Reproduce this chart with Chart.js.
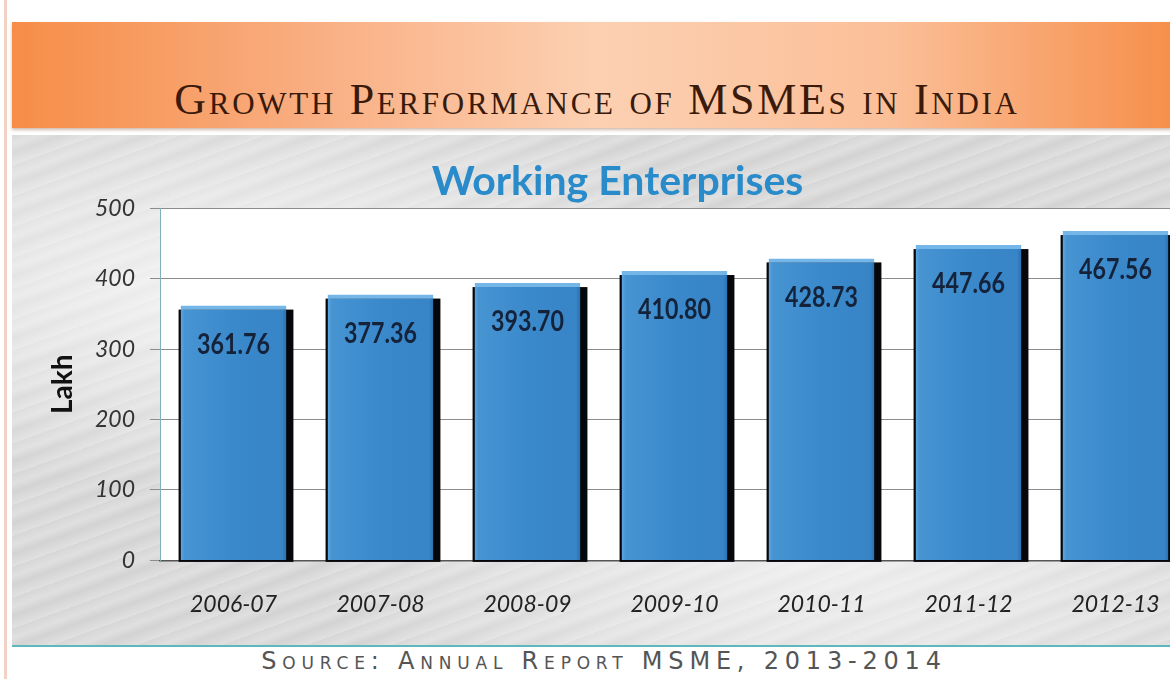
<!DOCTYPE html>
<html>
<head>
<meta charset="utf-8">
<script src="https://cdn.jsdelivr.net/npm/chart.js@4"></script>
<style>
  html, body { margin: 0; padding: 0; }
  body { width: 1170px; height: 679px; overflow: hidden; position: relative; background: #fff; }
  #edge { position: absolute; left: 4px; top: 0; width: 3px; height: 679px; background: #f1d2c4; }
  #header {
    position: absolute; left: 12px; top: 22px; width: 1170px; height: 106px;
    background: linear-gradient(to right, #f68d48 0%, #f9ad80 25%, #fcd0b2 50%, #fbbf98 75%, #f68d48 100%);
    box-shadow: 0 2px 3px rgba(120,60,20,0.35);
  }
  #header span {
    position: absolute; left: 0; width: 1170px; top: 52px; text-align: center;
    font-family: "Liberation Serif", serif; font-size: 44px; font-variant: small-caps;
    color: #3a1a0a; letter-spacing: 2.7px;
  }
  #marble {
    position: absolute; left: 12px; top: 135px; width: 1170px; height: 510px;
    background:
      radial-gradient(ellipse at 20% 30%, rgba(255,255,255,0.7), rgba(255,255,255,0) 40%),
      radial-gradient(ellipse at 70% 80%, rgba(255,255,255,0.6), rgba(255,255,255,0) 45%),
      repeating-linear-gradient(160deg, rgba(150,150,150,0.10) 0px, rgba(255,255,255,0.05) 9px, rgba(130,130,130,0.12) 17px, rgba(255,255,255,0.08) 29px),
      #dedede;
  }
  #rule { position: absolute; left: 12px; top: 645px; width: 1170px; height: 2px; background: #5db7bf; }
  #source {
    position: absolute; left: 16px; width: 1176px; top: 647px; text-align: center;
    font-family: "DejaVu Sans", sans-serif; font-size: 24px; font-variant: small-caps;
    color: #555; letter-spacing: 5.8px;
  }
  #wrap { position: absolute; left: 12px; top: 135px; width: 1182px; height: 513px; }
</style>
</head>
<body>
<div id="edge"></div>
<div id="header"><span>Growth Performance of MSMEs in India</span></div>
<div id="marble"></div>
<div id="rule"></div>
<div id="source">Source: Annual Report MSME, 2013-2014</div>
<div id="wrap"><canvas id="chartEnterprises" width="1182" height="513"></canvas></div>
<script>
var years = ['2006-07', '2007-08', '2008-09', '2009-10', '2010-11', '2011-12', '2012-13'];
var enterprises = [361.76, 377.36, 393.70, 410.80, 428.73, 447.66, 467.56];
var yTicks = [0, 100, 200, 300, 400, 500];

var plotBackground = {
  id: 'plotBackground',
  beforeDraw: function(chart) {
    var a = chart.chartArea, ctx = chart.ctx;
    ctx.save();
    ctx.fillStyle = '#ffffff';
    ctx.fillRect(a.left, a.top, a.right - a.left + 20, a.bottom - a.top);
    ctx.restore();
  }
};

// black "3d" shadow behind each bar (thin on the left, thick on the right)
var barShadow = {
  id: 'barShadow',
  beforeDatasetsDraw: function(chart) {
    var ctx = chart.ctx;
    ctx.save();
    ctx.fillStyle = '#05070a';
    chart.getDatasetMeta(0).data.forEach(function(bar) {
      var p = bar.getProps(['x', 'y', 'base', 'width']);
      var left = p.x - p.width / 2;
      ctx.fillRect(left - 2, p.y + 4, p.width + 9, p.base - p.y - 2);
    });
    ctx.restore();
  }
};

var barLabels = {
  id: 'barLabels',
  afterDatasetsDraw: function(chart) {
    var ctx = chart.ctx;
    var meta = chart.getDatasetMeta(0);
    ctx.save();
    ctx.font = 'bold 29px Lato';
    ctx.fillStyle = '#15233a';
    ctx.textAlign = 'center';
    ctx.textBaseline = 'middle';
    meta.data.forEach(function(bar, i) {
      ctx.save();
      ctx.translate(bar.x, bar.y + 39);
      ctx.scale(0.8, 1);
      ctx.fillText(enterprises[i].toFixed(2), 0, 0);
      ctx.restore();
    });
    ctx.restore();
  }
};

var barFill = function(context) {
  var chart = context.chart;
  var xScale = chart.scales && chart.scales.x;
  if (!xScale || context.dataIndex === undefined) return '#3a89cb';
  var cx = xScale.getPixelForValue(context.dataIndex);
  if (!isFinite(cx)) return '#3a89cb';
  var w = 53;
  var g = chart.ctx.createLinearGradient(cx - w, 0, cx + w, 0);
  g.addColorStop(0, '#5fa6df');
  g.addColorStop(0.04, '#4794d2');
  g.addColorStop(0.5, '#3a89cb');
  g.addColorStop(0.96, '#3784c6');
  g.addColorStop(1, '#2c6fae');
  return g;
};

var ctx = document.getElementById('chartEnterprises').getContext('2d');
var chartEnterprises = new Chart(ctx, {
  type: 'bar',
  data: {
    labels: years,
    datasets: [{
      label: 'Working Enterprises',
      data: enterprises,
      backgroundColor: barFill,
      borderColor: '#74b6e8',
      borderWidth: { top: 4, left: 0, right: 0, bottom: 0 },
      barPercentage: 0.72,
      categoryPercentage: 1
    }]
  },
  options: {
    responsive: false,
    animation: false,
    devicePixelRatio: 1,
    layout: { padding: { left: 34, right: 5, top: 12, bottom: 0 } },
    plugins: {
      legend: { display: false },
      tooltip: { enabled: false },
      title: {
        display: true,
        text: 'Working Enterprises',
        color: '#2a8bcb',
        font: { family: 'Lato', size: 41, weight: 'bold' },
        padding: { top: 10, bottom: 2 }
      }
    },
    scales: {
      x: {
        grid: { display: false, drawTicks: false },
        border: { display: true, color: '#555555', width: 1.5 },
        ticks: {
          color: '#222222',
          padding: 30,
          font: { family: 'Lato', size: 23, style: 'italic' }
        }
      },
      y: {
        min: 0,
        max: 500,
        afterBuildTicks: function(scale) {
          scale.ticks = yTicks.map(function(v) { return { value: v }; });
        },
        afterFit: function(scale) { scale.width = 114; },
        grid: { color: '#8c8c8c', lineWidth: 1, tickLength: 10 },
        border: { display: true, color: '#7fb0bd', width: 1 },
        ticks: {
          color: '#333333',
          padding: 15,
          font: { family: 'Lato', size: 23, style: 'italic' }
        },
        title: {
          display: true,
          text: 'Lakh',
          color: '#111111',
          padding: { top: 0, bottom: 0 },
          font: { family: 'Lato', size: 28, weight: 'bold' }
        }
      }
    }
  },
  plugins: [plotBackground, barShadow, barLabels]
});
</script>
</body>
</html>
